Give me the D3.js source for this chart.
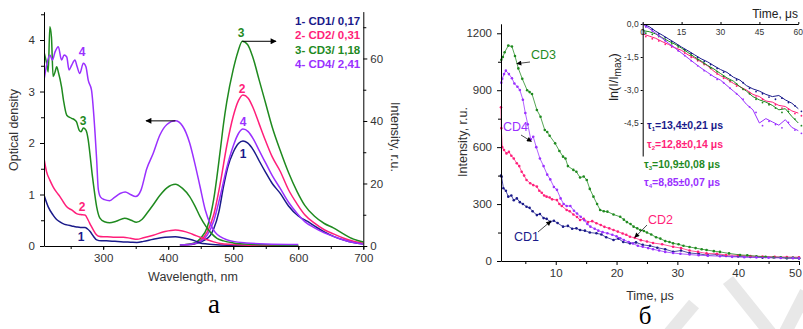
<!DOCTYPE html>
<html>
<head>
<meta charset="utf-8">
<script src="https://cdn.jsdelivr.net/npm/d3@7"></script>
<style>
  body { margin: 0; background: #fff; }
  svg { display: block; font-family: "Liberation Sans", Arial, sans-serif; }
  .tick text { fill: #333; }
</style>
</head>
<body>
<div id="chart"></div>
<script>
// ---- panel a : absorption (left axis) ----
const absCD1 = [[209,0.99],[215.5,0.76],[223,0.6],[228,0.52],[233.5,0.47],[239,0.43],[244,0.41],[251.5,0.39],[259,0.37],[265,0.36],[272,0.36],[276,0.33],[280,0.28],[285,0.19],[290,0.12],[297,0.1],[305,0.1],[318,0.09],[331,0.08],[342,0.075],[352,0.07],[362,0.09],[377,0.13],[395,0.17],[411,0.18],[422,0.16],[433,0.13],[441,0.1],[449,0.06],[460,0.04],[480,0.02],[500,0.01],[600,0]];
const absCD2 = [[209,1.7],[213,1.44],[218,1.28],[223,1.15],[228,1.05],[233.5,0.96],[239,0.85],[244,0.76],[251.5,0.7],[259,0.63],[265,0.61],[272,0.6],[277,0.5],[281,0.4],[285,0.31],[289,0.23],[293,0.19],[300,0.18],[306,0.18],[318,0.17],[331,0.17],[342,0.15],[352,0.13],[362,0.16],[377,0.21],[395,0.28],[411,0.31],[422,0.29],[433,0.25],[441,0.21],[449,0.17],[460,0.12],[470,0.08],[480,0.05],[500,0.03],[550,0.01],[600,0.005]];
const absCD3 = [[209,3.77],[213,3.55],[215.5,3.38],[218,4.26],[220.5,4.05],[223,3.29],[226,3.38],[228.5,3.48],[231,3.38],[236,3.09],[239,2.83],[244,2.54],[251.5,2.48],[256,2.45],[259,2.41],[263,2.25],[266,2.22],[269.5,2.29],[273.5,2.25],[277,2.06],[280,1.75],[283,1.4],[285,1.2],[290,0.76],[295,0.54],[302,0.47],[310,0.45],[320,0.48],[333,0.54],[343,0.5],[351,0.46],[360,0.52],[367,0.63],[377,0.8],[387,0.98],[398,1.13],[411,1.2],[422,1.12],[433,0.96],[441,0.78],[449,0.57],[458,0.38],[466,0.25],[475,0.15],[485,0.1],[500,0.06],[530,0.03],[560,0.02],[600,0.01]];
const absCD4 = [[209,3.22],[213,3.51],[218,3.71],[222,3.61],[226,3.77],[231,3.87],[236,3.61],[240,3.71],[244,3.67],[247.5,3.42],[251.5,3.51],[256.5,3.61],[260,3.48],[264,3.35],[269.5,3.55],[273.5,3.48],[277,3.22],[282,3.03],[287.5,2.19],[290,1.67],[292.5,1.1],[296,0.95],[302,0.9],[310,0.88],[318,0.95],[326,1.02],[334,1.05],[342,1.0],[350,0.96],[358,1.08],[367,1.5],[377,1.8],[387,2.15],[398,2.36],[411,2.43],[422,2.33],[433,2.0],[441,1.6],[449,1.15],[457,0.7],[465,0.42],[472,0.27],[480,0.18],[490,0.12],[500,0.09],[520,0.06],[550,0.04],[600,0.03]];

// ---- panel a : photoluminescence (right axis) ----
const emCD1 = [[418,0.2],[440,0.6],[455,1.8],[465,3.5],[470,5.5],[478,11],[485,19],[492,25.5],[500,30],[508,32.8],[515,33.6],[522,33],[531,30.7],[540,27.2],[550,23.5],[560,20],[572,16.9],[585,12.8],[600,9.6],[615,7.8],[628,6],[640,4.5],[655,3],[670,1.9],[685,1.1],[700,0.6]];
const emCD2 = [[418,0.3],[440,0.8],[450,1.8],[460,4.5],[470,10],[480,20],[490,32],[500,41.5],[508,46.5],[515,48.3],[523,47.3],[531,44],[540,39],[550,33.5],[560,28.5],[572,24],[585,18],[598,13.5],[610,10],[625,7.3],[640,5.2],[655,3.8],[670,2.5],[685,1.5],[700,0.9]];
const emCD3 = [[418,0.3],[440,1],[450,2.5],[460,6],[470,15],[480,30.5],[485,39],[490,46],[500,56.5],[507,62],[514,65.5],[522,64.5],[530,60.5],[540,53],[550,45.5],[560,38],[572,30.7],[585,23.5],[598,17.5],[610,13],[625,9.5],[640,7.2],[654,5.8],[670,3.8],[685,2.2],[700,1.3]];
const emCD4 = [[418,0.3],[440,0.8],[450,1.5],[460,3.5],[470,8],[480,16],[490,25],[500,32],[508,36],[515,37.4],[523,36.6],[531,34.2],[540,30.5],[550,26.5],[560,22.5],[572,18.5],[585,14],[598,10.5],[610,7.8],[625,5.8],[640,4.2],[655,3],[670,1.9],[685,1.1],[700,0.6]];

const legendText = ['1- CD1/ 0,17', '2- CD2/ 0,31', '3- CD3/ 1,18', '4- CD4/ 2,41'];
const colors = ['#1a1a8a', '#ff1f7a', '#1f8a1f', '#9a30ff'];
const odTicks = [0, 1, 2, 3, 4];
const plTicks = [0, 20, 40, 60];
const wlTicks = [300, 400, 500, 600, 700];

// ---- panel б : decay kinetics ----
const decCD1 = [[1.0,450],[1.1,444],[1.4,383],[1.8,370],[2.2,339],[2.7,345],[3.1,320],[3.6,330],[4.1,310],[4.6,300],[5.2,286],[5.7,280],[6.2,262],[6.9,242],[7.4,248],[8,226],[8.5,222],[9.1,207],[9.7,212],[10.3,200],[11.2,181],[12,185],[12.7,170],[13.4,172],[14,163],[14.8,160],[15.6,150],[16.7,146],[17.5,140],[18.3,125],[19.5,111],[20.3,118],[21.1,100],[22.2,93],[23.2,98],[24.3,85],[25.5,80],[26.7,70],[28,62],[29.3,49],[30.6,55],[32,42],[33.5,38],[35,30],[36.5,34],[38,26],[40,24],[42,21],[44,18],[46,20],[48,15],[50,14]];
const decCD2 = [[1.0,810],[1.05,700],[1.2,600],[1.5,585],[1.9,567],[2.3,575],[2.7,555],[3.1,540],[3.6,515],[4.0,500],[4.4,470],[4.8,450],[5.2,427],[5.8,410],[6.3,400],[6.9,392],[7.3,370],[7.7,360],[8.1,345],[8.5,339],[9.0,335],[9.4,325],[10.2,321],[10.6,300],[11,290],[11.8,269],[12.3,262],[12.9,245],[13.5,232],[14,216],[14.6,222],[15.3,205],[16,210],[16.7,199],[17.4,190],[18,180],[18.8,172],[19.5,163],[20.2,155],[21,145],[21.6,138],[22.2,128],[23,122],[24,110],[25,103],[26,95],[27.5,88],[29.3,75],[30.6,68],[32,55],[33.4,48],[34.8,40],[36.5,38],[38,32],[40,30],[42,26],[44,24],[46,22],[48,21],[50,20]];
const decCD3 = [[1.05,1060],[1.3,1075],[1.6,1100],[2.2,1135],[2.8,1130],[3.3,1080],[3.85,1015],[4.5,960],[5.3,900],[5.7,890],[6.1,880],[6.9,796],[7.5,760],[8.2,690],[8.6,680],[9.0,660],[9.9,620],[10.6,580],[11.2,550],[11.6,540],[12.0,500],[12.9,480],[13.4,470],[14,440],[14.6,445],[15.1,427],[15.6,380],[16.2,339],[16.8,300],[17.3,269],[17.9,262],[18.5,260],[19.5,245],[20.6,233],[21.2,218],[21.7,205],[22.3,195],[22.8,181],[23.4,172],[23.9,163],[24.5,158],[25,150],[25.7,140],[26.5,125],[27.2,118],[28,105],[28.7,100],[29.3,93],[30.2,88],[31,80],[32,74],[33,68],[34,62],[34.8,58],[36,52],[37,48],[38.5,40],[40.3,32],[41.5,30],[43,25],[44.5,22],[45.8,19],[47,20],[48,16],[49,18],[50,15]];
const decCD4 = [[1.05,940],[1.2,960],[1.5,985],[1.8,1003],[2.3,985],[2.8,963],[3.2,935],[3.7,918],[4.1,901],[4.6,850],[5.0,780],[5.4,720],[5.9,640],[6.3,655],[6.8,600],[7.4,540],[8,500],[8.6,455],[9.1,430],[9.7,390],[10.2,375],[10.8,330],[11.3,300],[11.8,290],[12.4,290],[13,265],[13.5,250],[14.1,233],[14.7,215],[15.2,195],[15.7,181],[16.4,170],[17,160],[17.7,152],[18.5,146],[19.3,138],[20,130],[20.6,120],[21.2,111],[22,100],[22.7,92],[23.5,80],[24.3,75],[25.2,68],[26,62],[27,55],[28,48],[29.3,42],[30.5,38],[32,34],[33.5,30],[35,28],[37,25],[39,22],[41,20],[43,19],[45,17],[47,16],[49,15],[50,14]];
const intTicks = [0, 300, 600, 900, 1200];
const timeTicks = [10, 20, 30, 40, 50];

// inset: ln(I/Imax) vs time
const lnTime = [0,2.5,5,7.5,10,12.5,15,17.5,20,22.5,25,27.5,30,32.5,35,37.5,40,42.5,45,47.5,50,52.5,55,57.5,60];
const lnCD1 = [0,-0.12,-0.33,-0.5,-0.68,-0.86,-1.05,-1.22,-1.4,-1.58,-1.72,-1.9,-2.07,-2.2,-2.42,-2.55,-2.8,-2.95,-3.05,-3.2,-3.3,-3.25,-3.45,-3.6,-3.85];
const lnCD2 = [-0.45,-0.55,-0.65,-0.8,-0.93,-1.08,-1.2,-1.4,-1.55,-1.72,-1.9,-2.15,-2.35,-2.5,-2.7,-2.85,-3.0,-3.2,-3.3,-3.5,-3.55,-3.7,-3.75,-3.95,-4.05];
const lnCD3 = [-0.3,-0.35,-0.45,-0.62,-0.78,-0.92,-1.1,-1.3,-1.5,-1.68,-1.88,-2.05,-2.25,-2.45,-2.6,-2.85,-3.05,-3.3,-3.45,-3.55,-3.7,-3.9,-3.85,-4.2,-4.5];
const lnCD4 = [0,-0.2,-0.42,-0.65,-0.88,-1.1,-1.32,-1.55,-1.78,-2.0,-2.2,-2.4,-2.55,-2.8,-3.05,-3.3,-3.65,-3.9,-4.5,-4.3,-4.45,-4.6,-4.35,-4.7,-4.85];
const lnTicks = [0, -1.5, -3, -4.5];
const lnTimeTicks = [0, 15, 30, 45, 60];
const tauText = [['1', '=13,4±0,21 μs'], ['2', '=12,8±0,14 μs'], ['3', '=10,9±0,08 μs'], ['4', '=8,85±0,07 μs']];

const comma = d => d3.format('.1f')(d).replace('.', ',').replace('−', '-');
const plain = d => String(d);

const svg = d3.select('#chart').append('svg')
  .attr('width', 803)
  .attr('height', 329);

svg.append('rect').attr('width', 803).attr('height', 329).attr('fill', '#fff');

// faint watermark strokes in the corner
const wm = svg.append('g').attr('stroke', '#e8e8e8').attr('stroke-width', 13).attr('fill', 'none');
wm.append('line').attr('x1', 728).attr('y1', 280).attr('x2', 772).attr('y2', 335);
wm.append('line').attr('x1', 784).attr('y1', 335).attr('x2', 806).attr('y2', 292);
wm.append('line').attr('x1', 668).attr('y1', 335).attr('x2', 694).attr('y2', 304);

const defs = svg.append('defs');
defs.append('marker')
  .attr('id', 'head')
  .attr('viewBox', '0 0 10 10')
  .attr('refX', 9).attr('refY', 5)
  .attr('markerWidth', 9).attr('markerHeight', 6)
  .attr('markerUnits', 'userSpaceOnUse')
  .attr('orient', 'auto')
  .append('path').attr('d', 'M0,0 L10,5 L0,10 z').attr('fill', '#000');
defs.append('marker')
  .attr('id', 'small')
  .attr('viewBox', '0 0 10 10')
  .attr('refX', 9).attr('refY', 5)
  .attr('markerWidth', 6).attr('markerHeight', 5)
  .attr('markerUnits', 'userSpaceOnUse')
  .attr('orient', 'auto')
  .append('path').attr('d', 'M0,0 L10,5 L0,10 z').attr('fill', '#000');

// ================= panel a =================
const xW = d3.scaleLinear().domain([209, 700]).range([44, 363.3]);
const yOD = d3.scaleLinear().domain([0, 4.55]).range([246, 11.7]);
const yPL = d3.scaleLinear().domain([0, 75]).range([246, 11.6]);

const clipA = defs.append('clipPath').attr('id', 'clipA');
clipA.append('rect').attr('x', 44).attr('y', 8).attr('width', 320).attr('height', 240);

const plotA = svg.append('g').attr('clip-path', 'url(#clipA)');

const absLine = d3.line().x(d => xW(d[0])).y(d => yOD(d[1])).curve(d3.curveMonotoneX);
const emLine = d3.line().x(d => xW(d[0])).y(d => yPL(d[1])).curve(d3.curveMonotoneX);

[emCD1, emCD2, emCD3, emCD4].forEach((s, i) => {
  plotA.append('path').attr('d', emLine(s))
    .attr('fill', 'none').attr('stroke', colors[i]).attr('stroke-width', 1.5);
});
[absCD1, absCD2, absCD3, absCD4].forEach((s, i) => {
  plotA.append('path').attr('d', absLine(s))
    .attr('fill', 'none').attr('stroke', colors[i]).attr('stroke-width', 1.5);
});

const minorW = d3.range(250, 701, 50);
svg.append('g')
  .attr('transform', 'translate(0,246)')
  .call(d3.axisBottom(xW).tickValues(minorW).tickSize(3).tickFormat(''))
  .call(g => g.select('.domain').remove());
svg.append('g')
  .attr('transform', 'translate(0,246)')
  .call(d3.axisBottom(xW).tickValues(wlTicks).tickSize(4).tickSizeOuter(0).tickPadding(4).tickFormat(plain))
  .call(g => g.selectAll('text').attr('font-size', 11.5));

svg.append('g')
  .attr('transform', 'translate(44,0)')
  .call(d3.axisLeft(yOD).tickValues(d3.range(0.5, 4.6, 1)).tickSize(3).tickFormat(''))
  .call(g => g.select('.domain').remove());
svg.append('g')
  .attr('transform', 'translate(44,0)')
  .call(d3.axisLeft(yOD).tickValues(odTicks).tickSize(4).tickSizeOuter(0).tickPadding(5).tickFormat(plain))
  .call(g => g.selectAll('text').attr('font-size', 11.5));

svg.append('g')
  .attr('transform', 'translate(363.3,0)')
  .call(d3.axisRight(yPL).tickValues([10, 30, 50, 70]).tickSize(3).tickFormat(''))
  .call(g => g.select('.domain').remove());
svg.append('g')
  .attr('transform', 'translate(363.3,0)')
  .call(d3.axisRight(yPL).tickValues(plTicks).tickSize(4).tickSizeOuter(0).tickPadding(3).tickFormat(plain))
  .call(g => g.selectAll('text').attr('font-size', 11.5));

svg.append('text')
  .attr('transform', 'translate(18,130) rotate(-90)')
  .attr('text-anchor', 'middle')
  .attr('font-size', 12.5).attr('fill', '#333')
  .text('Optical density');
svg.append('text')
  .attr('transform', 'translate(391,137) rotate(90)')
  .attr('text-anchor', 'middle')
  .attr('font-size', 12.5).attr('fill', '#333')
  .text('Intensity, r.u.');
svg.append('text')
  .attr('x', 193).attr('y', 281)
  .attr('text-anchor', 'middle')
  .attr('font-size', 12.5).attr('fill', '#333')
  .text('Wavelength, nm');

// curve numbers
const numA = [
  { t: '1', c: 0, x: 81, y: 241 }, { t: '2', c: 1, x: 82, y: 211 },
  { t: '3', c: 2, x: 83, y: 125 }, { t: '4', c: 3, x: 82, y: 56 },
  { t: '1', c: 0, x: 243, y: 158 }, { t: '2', c: 1, x: 242, y: 93 },
  { t: '3', c: 2, x: 241, y: 37 }, { t: '4', c: 3, x: 243, y: 126 }
];
svg.selectAll('.num').data(numA).enter().append('text')
  .attr('x', d => d.x).attr('y', d => d.y)
  .attr('text-anchor', 'middle')
  .attr('font-size', 12).attr('font-weight', 'bold')
  .attr('fill', d => colors[d.c])
  .text(d => d.t);

svg.selectAll('.leg').data(legendText).enter().append('text')
  .attr('x', 295).attr('y', (d, i) => 25 + i * 14.3)
  .attr('font-size', 11.5).attr('font-weight', 'bold')
  .attr('fill', (d, i) => colors[i])
  .text(d => d);

// axis arrows
svg.append('line')
  .attr('x1', xW(411)).attr('y1', yOD(2.43)).attr('x2', 146).attr('y2', yOD(2.43))
  .attr('stroke', '#000').attr('stroke-width', 1).attr('marker-end', 'url(#head)');
svg.append('line')
  .attr('x1', xW(514)).attr('y1', yPL(65.5)).attr('x2', 276).attr('y2', yPL(65.5))
  .attr('stroke', '#000').attr('stroke-width', 1).attr('marker-end', 'url(#head)');

svg.append('text')
  .attr('x', 214).attr('y', 313)
  .attr('text-anchor', 'middle')
  .attr('font-family', '"Liberation Serif", "Times New Roman", serif')
  .attr('font-size', 27)
  .text('а');

// ================= panel б =================
const xT = d3.scaleLinear().domain([1, 50]).range([501, 799]);
const yI = d3.scaleLinear().domain([0, 1250]).range([261, 23.8]);

const decLine = d3.line().x(d => xT(d[0])).y(d => yI(d[1]));
[decCD1, decCD2, decCD3, decCD4].forEach((s, i) => {
  const g = svg.append('g');
  g.append('path').attr('d', decLine(s))
    .attr('fill', 'none').attr('stroke', colors[i]).attr('stroke-width', 0.9).attr('opacity', 0.85);
  g.selectAll('circle').data(s).enter().append('circle')
    .attr('cx', d => xT(d[0])).attr('cy', d => yI(d[1]))
    .attr('r', 1.3).attr('fill', colors[i]);
});

svg.append('g')
  .attr('transform', 'translate(0,261)')
  .call(d3.axisBottom(xT).tickValues([5, 15, 25, 35, 45]).tickSize(3).tickFormat(''))
  .call(g => g.select('.domain').remove());
svg.append('g')
  .attr('transform', 'translate(0,261)')
  .call(d3.axisBottom(xT).tickValues(timeTicks).tickSize(4).tickSizeOuter(0).tickPadding(4).tickFormat(plain))
  .call(g => g.selectAll('text').attr('font-size', 11.5))
  .call(g => g.selectAll('text').filter(d => d === 50).attr('dx', -4));

svg.append('g')
  .attr('transform', 'translate(501,0)')
  .call(d3.axisLeft(yI).tickValues([150, 450, 750, 1050]).tickSize(3).tickFormat(''))
  .call(g => g.select('.domain').remove());
svg.append('g')
  .attr('transform', 'translate(501,0)')
  .call(d3.axisLeft(yI).tickValues(intTicks).tickSize(4).tickSizeOuter(0).tickPadding(5).tickFormat(plain))
  .call(g => g.selectAll('text').attr('font-size', 11.5));

svg.append('text')
  .attr('transform', 'translate(467,142) rotate(-90)')
  .attr('text-anchor', 'middle')
  .attr('font-size', 12.5).attr('fill', '#333')
  .text('Intensity, r.u.');
svg.append('text')
  .attr('x', 650).attr('y', 300)
  .attr('text-anchor', 'middle')
  .attr('font-size', 12.5).attr('fill', '#333')
  .text('Time, μs');

// series labels with pointers
const labB = [
  { t: 'CD3', c: 2, x: 531, y: 59, ax1: 530, ay1: 62, ax2: xT(3.6), ay2: yI(1040) },
  { t: 'CD4', c: 3, x: 503, y: 131, ax1: 521, ay1: 135, ax2: xT(6), ay2: yI(630) },
  { t: 'CD1', c: 0, x: 514, y: 241, ax1: 538, ay1: 232, ax2: xT(9.2), ay2: yI(210) },
  { t: 'CD2', c: 1, x: 648, y: 224, ax1: 647, ay1: 225, ax2: xT(23), ay2: yI(124) }
];
labB.forEach(d => {
  svg.append('text')
    .attr('x', d.x).attr('y', d.y)
    .attr('font-size', 12.5).attr('fill', colors[d.c])
    .text(d.t);
  svg.append('line')
    .attr('x1', d.ax1).attr('y1', d.ay1).attr('x2', d.ax2).attr('y2', d.ay2)
    .attr('stroke', '#000').attr('stroke-width', 0.7).attr('marker-end', 'url(#small)');
});

svg.append('text')
  .attr('x', 645).attr('y', 324)
  .attr('text-anchor', 'middle')
  .attr('font-family', '"Liberation Serif", "Times New Roman", serif')
  .attr('font-size', 25)
  .text('б');

// ---- inset ----
const xIn = d3.scaleLinear().domain([0, 60]).range([642.7, 798.3]);
const yIn = d3.scaleLinear().domain([0, -6]).range([24, 156]);

const lnLine = d3.line().x((d, i) => xIn(lnTime[i])).y(d => yIn(d));
[lnCD1, lnCD2, lnCD3, lnCD4].forEach((s, i) => {
  const g = svg.append('g');
  g.append('path').attr('d', lnLine(s))
    .attr('fill', 'none').attr('stroke', colors[i]).attr('stroke-width', 1);
  g.selectAll('circle').data(s).enter().append('circle')
    .attr('cx', (d, j) => xIn(lnTime[j] + 1.2)).attr('cy', d => yIn(d - 0.12))
    .attr('r', 0.9).attr('fill', colors[i]);
});

svg.append('g')
  .attr('transform', 'translate(0,24)')
  .call(d3.axisTop(xIn).tickValues(lnTimeTicks).tickSize(2).tickSizeOuter(0).tickFormat(''));
svg.selectAll('.lnx').data(lnTimeTicks).enter().append('text')
  .attr('x', d => xIn(d)).attr('y', 35)
  .attr('text-anchor', 'middle')
  .attr('font-size', 8.5).attr('fill', '#333')
  .text(d => d);

svg.append('g')
  .attr('transform', 'translate(642.7,0)')
  .call(d3.axisLeft(yIn).tickValues(lnTicks).tickSize(2).tickSizeOuter(0).tickPadding(2).tickFormat(comma))
  .call(g => g.selectAll('text').attr('font-size', 8.5));

svg.append('text')
  .attr('x', 798).attr('y', 18)
  .attr('text-anchor', 'end')
  .attr('font-size', 12).attr('fill', '#222')
  .text('Time, μs');

const lnLab = svg.append('text')
  .attr('transform', 'translate(618,77) rotate(-90)')
  .attr('text-anchor', 'middle')
  .attr('font-size', 12.5).attr('fill', '#222');
lnLab.append('tspan').text('ln(I/I');
lnLab.append('tspan').attr('font-size', 10).attr('dy', 3).text('max');
lnLab.append('tspan').attr('dy', -3).text(')');

tauText.forEach((d, i) => {
  const t = svg.append('text')
    .attr('x', i < 2 ? 647 : 644).attr('y', [129, 148, 168, 186][i])
    .attr('font-size', 10.5).attr('font-weight', 'bold')
    .attr('fill', colors[i]);
  t.append('tspan').text('τ');
  t.append('tspan').attr('font-size', 6).attr('dy', 2).text(d[0]);
  t.append('tspan').attr('dy', -2).text(d[1]);
});
</script>
</body>
</html>
